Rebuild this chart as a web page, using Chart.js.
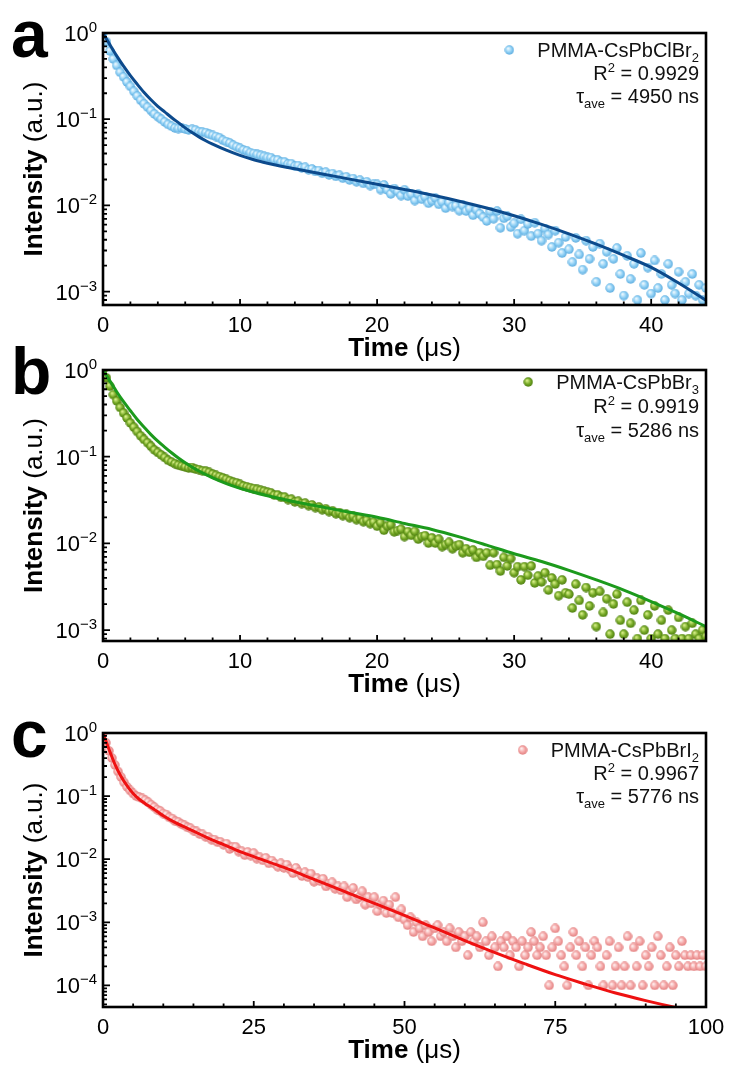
<!DOCTYPE html>
<html>
<head>
<meta charset="utf-8">
<script src="https://cdn.jsdelivr.net/npm/chart.js@4.4.0/dist/chart.umd.min.js"></script>
<style>
  html, body { margin: 0; padding: 0; background: #fff; }
  #wrap { position: relative; width: 731px; height: 1066px; }
  canvas { position: absolute; left: 0; top: 0; }
</style>
</head>
<body>
<div id="wrap">
  <canvas id="chartA" width="731" height="1066"></canvas>
  <canvas id="chartB" width="731" height="1066"></canvas>
  <canvas id="chartC" width="731" height="1066"></canvas>
</div>
<script>
// Время (мкс) для панелей a и b
const timeAB = [
  0, 0.25, 0.5, 0.75, 1, 1.25, 1.5, 1.75,
  2, 2.25, 2.5, 2.75, 3, 3.25, 3.5, 3.75,
  4, 4.25, 4.5, 4.75, 5, 5.25, 5.5, 5.75,
  6, 6.25, 6.5, 6.75, 7, 7.25, 7.5, 7.75,
  8, 8.25, 8.5, 8.75, 9, 9.25, 9.5, 9.75,
  10, 10.25, 10.5, 10.75, 11, 11.25, 11.5, 11.75,
  12, 12.25, 12.5, 12.75, 13, 13.25, 13.5, 13.75,
  14, 14.25, 14.5, 14.75, 15, 15.25, 15.5, 15.75,
  16, 16.25, 16.5, 16.75, 17, 17.25, 17.5, 17.75,
  18, 18.25, 18.5, 18.75, 19, 19.25, 19.5, 19.75,
  20, 20.25, 20.5, 20.75, 21, 21.25, 21.5, 21.75,
  22, 22.25, 22.5, 22.75, 23, 23.25, 23.5, 23.75,
  24, 24.25, 24.5, 24.75, 25, 25.25, 25.5, 25.75,
  26, 26.25, 26.5, 26.75, 27, 27.25, 27.5, 27.75,
  28, 28.25, 28.5, 28.75, 29, 29.25, 29.5, 29.75,
  30, 30.25, 30.5, 30.75, 31, 31.25, 31.5, 31.75,
  32, 32.25, 32.5, 32.75, 33, 33.25, 33.5, 33.75,
  34, 34.25, 34.5, 34.75, 35, 35.25, 35.5, 35.75,
  36, 36.25, 36.5, 36.75, 37, 37.25, 37.5, 37.75,
  38, 38.25, 38.5, 38.75, 39, 39.25, 39.5, 39.75,
  40, 40.25, 40.5, 40.75, 41, 41.25, 41.5, 41.75,
  42, 42.25, 42.5, 42.75, 43, 43.25, 43.5, 43.75,
  44];

// PMMA-CsPbClBr2
const intensityA = [
  1.0, 0.79, 0.62, 0.50, 0.42, 0.35, 0.31, 0.27,
  0.24, 0.21, 0.186, 0.166, 0.151, 0.138, 0.126, 0.115,
  0.107, 0.1, 0.093, 0.087, 0.083, 0.079, 0.078, 0.079,
  0.077, 0.075, 0.076, 0.075, 0.072, 0.071, 0.070, 0.067,
  0.065, 0.063, 0.061, 0.057, 0.055, 0.053, 0.050, 0.048,
  0.046, 0.044, 0.043, 0.041, 0.040, 0.039, 0.038, 0.037,
  0.036, 0.0358, 0.0338, 0.0337, 0.0318, 0.0319, 0.0302, 0.0304,
  0.0286, 0.0290, 0.0272, 0.0277, 0.0259, 0.0265, 0.0248, 0.0254,
  0.0236, 0.0243, 0.0226, 0.0234, 0.0217, 0.0224, 0.0207, 0.0215,
  0.0197, 0.0205, 0.0188, 0.0196, 0.0180, 0.0188, 0.0170, 0.0178,
  0.0175, 0.0153, 0.0173, 0.0151, 0.0136, 0.0157, 0.0145, 0.0130,
  0.0152, 0.0128, 0.0135, 0.0114, 0.0135, 0.0118, 0.0126, 0.0106,
  0.0113, 0.0122, 0.0103, 0.0110, 0.0093, 0.0108, 0.0097, 0.0099,
  0.0087, 0.0100, 0.0086, 0.0092, 0.0077, 0.0089, 0.0080, 0.0073,
  0.0066, 0.0085, 0.0070, 0.0086, 0.0055, 0.0071, 0.0075, 0.0056,
  0.0062, 0.0047, 0.0069, 0.0051, 0.0061, 0.0044, 0.0063, 0.0047,
  0.0039, 0.0054, 0.0046, 0.0033, 0.0051, 0.0037, 0.0028, 0.0043,
  0.0031, 0.0022, 0.0042, 0.0027, 0.0018, 0.0039, 0.0024, 0.0033,
  0.0013, 0.0036, 0.0021, 0.0029, 0.0011, 0.0024, 0.0032, 0.0016,
  0.0009, 0.0026, 0.0014, 0.0021, 0.0008, 0.0028, 0.0012, 0.0019,
  0.00095, 0.0023, 0.0011, 0.0016, 0.0008, 0.0021, 0.0012, 0.00095,
  0.0017, 0.0008, 0.0013, 0.00095, 0.0016, 0.0009, 0.0012, 0.0008,
  0.0011];

// PMMA-CsPbBr3
const intensityB = [
  1.0, 0.81, 0.65, 0.52, 0.44, 0.37, 0.32, 0.28,
  0.245, 0.219, 0.195, 0.174, 0.158, 0.145, 0.132, 0.12,
  0.112, 0.105, 0.098, 0.091, 0.087, 0.083, 0.080, 0.078,
  0.076, 0.074, 0.075, 0.072, 0.071, 0.069, 0.068, 0.066,
  0.063, 0.061, 0.059, 0.057, 0.055, 0.053, 0.051, 0.050,
  0.048, 0.046, 0.045, 0.044, 0.043, 0.042, 0.041, 0.040,
  0.039, 0.0383, 0.0361, 0.0362, 0.0340, 0.0343, 0.0321, 0.0324,
  0.0302, 0.0307, 0.0288, 0.0292, 0.0273, 0.0278, 0.0259, 0.0264,
  0.0245, 0.0251, 0.0233, 0.0238, 0.0220, 0.0227, 0.0209, 0.0216,
  0.0198, 0.0205, 0.0188, 0.0195, 0.0178, 0.0185, 0.0169, 0.0176,
  0.0158, 0.0173, 0.0142, 0.0158, 0.0164, 0.0136, 0.0141, 0.0146,
  0.0120, 0.0137, 0.0124, 0.0138, 0.0112, 0.0120, 0.0123, 0.0101,
  0.0116, 0.0101, 0.0112, 0.0092, 0.0097, 0.0103, 0.0087, 0.0093,
  0.0097, 0.0078, 0.0087, 0.0079, 0.0084, 0.0069, 0.0078, 0.0071,
  0.0078, 0.0056, 0.0078, 0.0057, 0.0048, 0.0069, 0.0055, 0.0067,
  0.0046, 0.0054, 0.0038, 0.0054, 0.0043, 0.0055, 0.0035, 0.0042,
  0.0036, 0.0046, 0.0029, 0.0040, 0.0034, 0.0025, 0.0038, 0.0027,
  0.0026, 0.0018, 0.0034, 0.0022, 0.0015, 0.0031, 0.0019, 0.0027,
  0.0011, 0.0028, 0.0016, 0.0023, 0.0009, 0.0020, 0.0026, 0.0013,
  0.0009, 0.0021, 0.0012, 0.0017, 0.0008, 0.0022, 0.0010, 0.0015,
  0.0008, 0.0019, 0.0009, 0.0013, 0.0008, 0.0017, 0.0010, 0.0008,
  0.0014, 0.0008, 0.0011, 0.0008, 0.0012, 0.0009, 0.0008, 0.0010,
  0.00085];

// Аппроксимация (a, b)
const fitTimeAB = [0, 0.5, 1, 1.5, 2, 2.5, 3, 3.5, 4, 4.5, 5, 5.5, 6, 6.5, 7, 7.5, 8, 9, 10, 11, 12, 13, 14,
  16, 18, 20, 22, 24, 26, 28, 30, 32, 34, 36, 38, 40, 42, 44];
const fitA = [1, 0.733, 0.543, 0.412, 0.32, 0.254, 0.204, 0.168, 0.141, 0.1216, 0.1047, 0.0912, 0.0794, 0.07,
  0.0624, 0.0562, 0.0513, 0.0437, 0.038, 0.0339, 0.0309, 0.0285, 0.0266, 0.0232, 0.0202, 0.0176, 0.0153,
  0.0132, 0.0112, 0.00933, 0.00759, 0.00603, 0.00468, 0.00355, 0.00263, 0.00191, 0.00126, 0.000794];
const fitB = [1, 0.75, 0.562, 0.431, 0.339, 0.269, 0.219, 0.18, 0.151, 0.129, 0.111, 0.0966, 0.0851, 0.0759,
  0.0684, 0.0624, 0.0569, 0.049, 0.0432, 0.0389, 0.0355, 0.0327, 0.0302, 0.0263, 0.0229, 0.02, 0.017,
  0.0145, 0.0119, 0.00955, 0.0076, 0.0062, 0.0049, 0.0038, 0.0029, 0.00214, 0.00155, 0.0011];

// PMMA-CsPbBrI2
const timeC = [
  0, 0.5, 1, 1.5, 2, 2.5, 3, 3.5, 4, 4.5,
  5, 5.5, 6, 6.5, 7, 7.5, 8, 8.5, 9, 9.5,
  10, 10.5, 11, 11.5, 12, 12.5, 13, 13.5, 14, 14.5,
  15, 15.5, 16, 16.5, 17, 17.5, 18, 18.5, 19, 19.5,
  20, 20.5, 21, 21.5, 22, 22.5, 23, 23.5, 24, 24.5,
  25, 25.5, 26, 26.5, 27, 27.5, 28, 28.5, 29, 29.5,
  30, 30.5, 31, 31.5, 32, 32.5, 33, 33.5, 34, 34.5,
  35, 35.5, 36, 36.5, 37, 37.5, 38, 38.5, 39, 39.5,
  40, 40.5, 41, 41.5, 42, 42.5, 43, 43.5, 44, 44.5,
  45, 45.5, 46, 46.5, 47, 47.5, 48, 48.5, 49, 49.5,
  50, 50.5, 51, 51.5, 52, 52.5, 53, 53.5, 54, 54.5,
  55, 55.5, 56, 56.5, 57, 57.5, 58, 58.5, 59, 59.5,
  60, 60.5, 61, 61.5, 62, 62.5, 63, 63.5, 64, 64.5,
  65, 65.5, 66, 66.5, 67, 67.5, 68, 68.5, 69, 69.5,
  70, 70.5, 71, 71.5, 72, 72.5, 73, 73.5, 74, 74.5,
  75, 75.5, 76, 76.5, 77, 77.5, 78, 78.5, 79, 79.5,
  80, 80.5, 81, 81.5, 82, 82.5, 83, 83.5, 84, 84.5,
  85, 85.5, 86, 86.5, 87, 87.5, 88, 88.5, 89, 89.5,
  90, 90.5, 91, 91.5, 92, 92.5, 93, 93.5, 94, 94.5,
  95, 95.5, 96, 96.5, 97, 97.5, 98, 98.5, 99, 99.5,
  100];
const intensityC = [
  1.0, 0.70, 0.52, 0.40, 0.31, 0.245, 0.20, 0.165, 0.14, 0.123,
  0.11, 0.1, 0.096, 0.092, 0.086, 0.080, 0.073, 0.067, 0.061, 0.058,
  0.053, 0.051, 0.046, 0.044, 0.040, 0.039, 0.036, 0.0345, 0.032, 0.031,
  0.0285, 0.0275, 0.0252, 0.0248, 0.0227, 0.0224, 0.0204, 0.0204, 0.0186, 0.0187,
  0.0169, 0.0176, 0.0145, 0.0156, 0.0157, 0.0132, 0.0134, 0.0116, 0.0130, 0.0114,
  0.0125, 0.0102, 0.0107, 0.0096, 0.0105, 0.0086, 0.0095, 0.0085, 0.0076, 0.0086,
  0.0073, 0.0082, 0.0069, 0.0060, 0.0073, 0.0062, 0.0054, 0.0062, 0.0052, 0.0059,
  0.0044, 0.0050, 0.0045, 0.0049, 0.0037, 0.0041, 0.0043, 0.0034, 0.0037, 0.0032,
  0.0037, 0.0025, 0.0031, 0.0035, 0.0023, 0.0025, 0.0031, 0.0019, 0.0025, 0.0020,
  0.0025, 0.0015, 0.0019, 0.0022, 0.0014, 0.0019, 0.0014, 0.0025, 0.0012, 0.0016,
  0.0011, 0.0009, 0.0012, 0.0007, 0.0010, 0.0008, 0.0006, 0.0009, 0.0007, 0.0005,
  0.0008, 0.0009, 0.0006, 0.0007, 0.0005, 0.0008, 0.0006, 0.0004, 0.0007, 0.0005,
  0.0006, 0.0003, 0.0007, 0.0005, 0.0006, 0.0004, 0.001, 0.0005, 0.0003, 0.0006,
  0.0004, 0.0002, 0.0005, 0.0004, 0.0006, 0.0003, 0.0005, 0.0004, 0.0002, 0.0005,
  0.0003, 0.0004, 0.0007, 0.0005, 0.0003, 0.0004, 0.0006, 0.0003, 0.0001, 0.0004,
  0.0008, 0.0005, 0.0003, 0.0002, 0.0001, 0.0004, 0.0007, 0.0003, 0.0005, 0.0002,
  0.0004, 0.0001, 0.0003, 0.0005, 0.0004, 0.0002, 0.0001, 0.0003, 0.0005, 0.0001,
  0.0002, 0.0004, 0.0001, 0.0002, 0.0006, 0.0001, 0.0004, 0.0002, 0.0005, 0.0001,
  0.0003, 0.0002, 0.0004, 0.0001, 0.0006, 0.0003, 0.0001, 0.0002, 0.0004, 0.0001,
  0.0003, 0.0002, 0.0005, 0.0003, 0.0002, 0.0003, 0.0002, 0.0003, 0.0002, 0.0003,
  0.0002];
const fitTimeC = [0, 1, 2, 3, 4, 5, 6, 7, 8, 9, 10, 12, 14, 16, 18, 20, 22, 25, 30, 35, 40,
  45, 50, 55, 60, 65, 70, 75, 80, 85, 90, 95, 100];
const fitC = [1, 0.55, 0.316, 0.204, 0.145, 0.11, 0.0891, 0.0759, 0.0661, 0.0569, 0.049, 0.038, 0.0309, 0.0251,
  0.0204, 0.017, 0.0141, 0.011, 0.00741, 0.00479, 0.00309, 0.002, 0.00129, 0.000813, 0.000513, 0.000331,
  0.000219, 0.000148, 0.000105, 0.0000759, 0.0000575, 0.0000447, 0.0000355];

// Подписи осей и легенды
const xTicksAB = [0, 10, 20, 30, 40];
const xTicksC = [0, 25, 50, 75, 100];
const yExpAB = [0, -1, -2, -3];
const yExpC = [0, -1, -2, -3, -4];
const sampleNames = ['PMMA-CsPbClBr', 'PMMA-CsPbBr', 'PMMA-CsPbBrI'];
const sampleSubs = ['2', '3', '2'];
const r2Values = ['0.9929', '0.9919', '0.9967'];
const tauValues = ['4950', '5286', '5776'];

const FONT = '"Liberation Sans", Arial, Helvetica, sans-serif';

// Шарик для маркеров
function makeBall(light, base, dark) {
  const c = document.createElement('canvas');
  c.width = 10; c.height = 10;
  const g = c.getContext('2d');
  const grad = g.createRadialGradient(3.6, 3.4, 0.4, 5, 5, 5);
  grad.addColorStop(0, light);
  grad.addColorStop(0.55, base);
  grad.addColorStop(1, dark);
  g.fillStyle = grad;
  g.beginPath();
  g.arc(5, 5, 4.7, 0, Math.PI * 2);
  g.fill();
  return c;
}

function runsWidth(ctx, parts) {
  let w = 0;
  parts.forEach(p => {
    ctx.font = (p.bold ? 'bold ' : '') + p.size + 'px ' + FONT;
    w += ctx.measureText(p.t).width;
  });
  return w;
}

function drawRuns(ctx, parts, x, y) {
  let cx = x;
  parts.forEach(p => {
    ctx.font = (p.bold ? 'bold ' : '') + p.size + 'px ' + FONT;
    ctx.fillText(p.t, cx, y + (p.dy || 0));
    cx += ctx.measureText(p.t).width;
  });
}

// Оформление панели: рамка, засечки, подписи, легенда
const decor = {
  id: 'decor',
  afterDraw(chart, args, o) {
    const ctx = chart.ctx, a = chart.chartArea;
    const xs = chart.scales.x, ys = chart.scales.y;
    ctx.save();
    ctx.fillStyle = '#000';
    ctx.strokeStyle = '#000';
    ctx.textAlign = 'left';
    ctx.textBaseline = 'alphabetic';

    // засечки
    ctx.lineWidth = 1.8;
    ctx.beginPath();
    for (let v = 0; v <= xs.max + 1e-6; v += o.xMinor) {
      const px = xs.getPixelForValue(v);
      const major = o.xTicks.some(t => Math.abs(t - v) < 1e-6);
      ctx.moveTo(px, a.bottom);
      ctx.lineTo(px, a.bottom - (major ? 6 : 3.5));
    }
    const eMin = Math.floor(Math.log10(ys.min));
    for (let e = eMin; e <= 0; e++) {
      for (let m = 1; m <= 9; m++) {
        const v = m * Math.pow(10, e);
        if (v < ys.min || v > ys.max) continue;
        const py = ys.getPixelForValue(v);
        ctx.moveTo(a.left, py);
        ctx.lineTo(a.left + (m === 1 ? 7 : 4), py);
      }
    }
    ctx.stroke();

    ctx.lineWidth = 2.6;
    ctx.strokeRect(a.left, a.top, a.right - a.left, a.bottom - a.top);

    // подписи X
    ctx.font = '22px ' + FONT;
    ctx.textAlign = 'center';
    o.xTicks.forEach(t => ctx.fillText(String(t), xs.getPixelForValue(t), a.bottom + 27));
    ctx.textAlign = 'left';

    // подписи Y
    o.yExp.forEach(e => {
      const py = ys.getPixelForValue(Math.pow(10, e));
      const sup = e === 0 ? '0' : '\u2212' + (-e);
      const parts = [{ t: '10', size: 22 }, { t: sup, size: 15, dy: -9 }];
      const w = runsWidth(ctx, parts);
      drawRuns(ctx, parts, a.left - 6 - w, py + 8);
    });

    // заголовки осей
    const xt = [{ t: 'Time', size: 26, bold: true }, { t: ' (\u03bcs)', size: 26 }];
    drawRuns(ctx, xt, (a.left + a.right) / 2 - runsWidth(ctx, xt) / 2, a.bottom + 51);

    const yt = [{ t: 'Intensity', size: 26, bold: true }, { t: ' (a.u.)', size: 26 }];
    ctx.save();
    ctx.translate(42, (a.top + a.bottom) / 2);
    ctx.rotate(-Math.PI / 2);
    drawRuns(ctx, yt, -runsWidth(ctx, yt) / 2, 0);
    ctx.restore();

    // буква панели
    ctx.font = 'bold 66px ' + FONT;
    ctx.fillText(o.letter, 11, a.top + 24);

    // легенда
    const xr = a.right - 7;
    const lines = [
      [{ t: o.name, size: 20 }, { t: o.sub, size: 13, dy: 5 }],
      [{ t: 'R', size: 20 }, { t: '2', size: 13, dy: -8 }, { t: ' = ' + o.r2, size: 20 }],
      [{ t: '\u03c4', size: 20 }, { t: 'ave', size: 13, dy: 5 }, { t: ' = ' + o.tau + ' ns', size: 20 }]
    ];
    ctx.fillStyle = '#111';
    lines.forEach((parts, i) => {
      const w = runsWidth(ctx, parts);
      const y = a.top + o.legendY[i];
      drawRuns(ctx, parts, xr - w, y);
      if (i === 0) {
        ctx.drawImage(o.ball, xr - w - 28 - 5, y - 7 - 5);
      }
    });
    ctx.restore();
  }
};

function makePanel(id, p) {
  const pts = p.time.map((t, i) => ({ x: t, y: p.values[i] }));
  const fit = p.fitTime.map((t, i) => ({ x: t, y: p.fit[i] }));
  return new Chart(document.getElementById(id), {
    type: 'scatter',
    data: {
      datasets: [
        {
          data: fit, showLine: true, borderColor: p.lineColor, borderWidth: 3,
          pointRadius: 0, cubicInterpolationMode: 'monotone', fill: false, clip: 0
        },
        {
          data: pts, showLine: false, pointStyle: p.ball, pointRadius: 5, clip: 0
        }
      ]
    },
    options: {
      responsive: false,
      animation: false,
      layout: { padding: p.pad },
      plugins: {
        legend: { display: false },
        tooltip: { enabled: false },
        decor: p.decor
      },
      scales: {
        x: { type: 'linear', min: 0, max: p.xMax, display: false },
        y: { type: 'logarithmic', min: p.yMin, max: 1, display: false }
      }
    },
    plugins: [decor]
  });
}

const ballA = makeBall('#eef9ff', '#8fd0f5', '#58a8dc');
const ballB = makeBall('#d9f08a', '#74a824', '#4a7a10');
const ballC = makeBall('#fff0f0', '#f4a6a6', '#e07c7c');

makePanel('chartA', {
  time: timeAB, values: intensityA, fitTime: fitTimeAB, fit: fitA,
  lineColor: '#0c4a8c', ball: ballA, xMax: 44, yMin: 7.0e-4,
  pad: { left: 103, right: 25, top: 33, bottom: 761 },
  decor: { letter: 'a', xTicks: xTicksAB, xMinor: 2, yExp: yExpAB, ball: ballA,
    name: sampleNames[0], sub: sampleSubs[0], r2: r2Values[0], tau: tauValues[0], legendY: [24, 47, 70] }
});

makePanel('chartB', {
  time: timeAB, values: intensityB, fitTime: fitTimeAB, fit: fitB,
  lineColor: '#1c9a1c', ball: ballB, xMax: 44, yMin: 7.5e-4,
  pad: { left: 103, right: 25, top: 370, bottom: 425 },
  decor: { letter: 'b', xTicks: xTicksAB, xMinor: 2, yExp: yExpAB, ball: ballB,
    name: sampleNames[1], sub: sampleSubs[1], r2: r2Values[1], tau: tauValues[1], legendY: [19, 43, 67] }
});

makePanel('chartC', {
  time: timeC, values: intensityC, fitTime: fitTimeC, fit: fitC,
  lineColor: '#ee1111', ball: ballC, xMax: 100, yMin: 4.55e-5,
  pad: { left: 103, right: 25, top: 733, bottom: 59 },
  decor: { letter: 'c', xTicks: xTicksC, xMinor: 5, yExp: yExpC, ball: ballC,
    name: sampleNames[2], sub: sampleSubs[2], r2: r2Values[2], tau: tauValues[2], legendY: [24, 47, 70] }
});
</script>
</body>
</html>
